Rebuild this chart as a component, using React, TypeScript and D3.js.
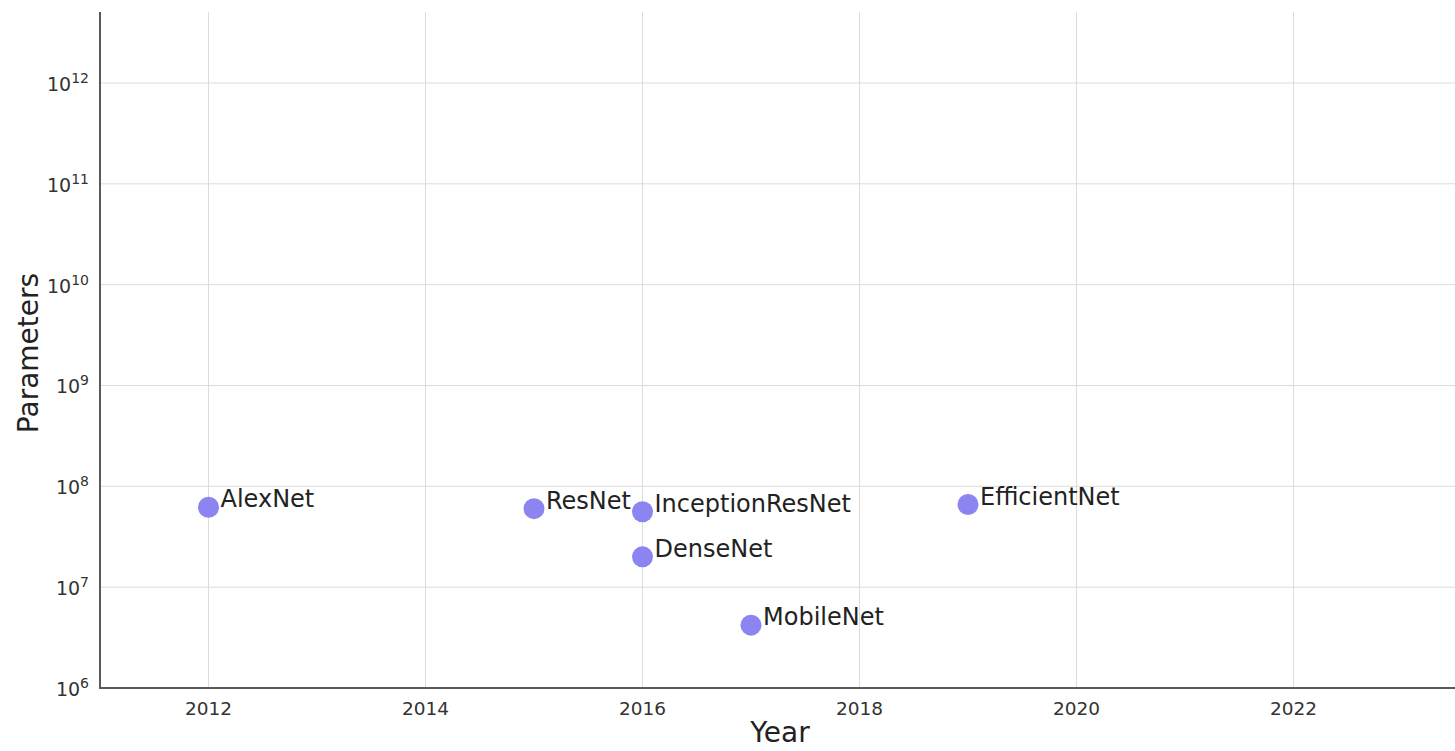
import React from "react";
import * as d3 from "d3";

// Model release year and parameter count
const models = ["AlexNet", "ResNet", "InceptionResNet", "DenseNet", "MobileNet", "EfficientNet"];
const years = [2012, 2015, 2016, 2016, 2017, 2019];
const params = [62e6, 60e6, 56e6, 20e6, 4.2e6, 66e6];

const xTicks = [2012, 2014, 2016, 2018, 2020, 2022];
const yExponents = [6, 7, 8, 9, 10, 11, 12];

const W = 1455;
const H = 751;
const FONT = "'DejaVu Sans', sans-serif";

export default function App() {
  const left = 100;
  const bottom = 688;
  const top = 12;

  const x = d3.scaleLinear().domain([2011, 2023.5]).range([left, left + 12.5 * 108.5]);
  const y = d3.scaleLog().domain([1e6, Math.pow(10, 12.704)]).range([bottom, top]);

  return (
    <svg
      width={W}
      height={H}
      style={{ position: "absolute", left: 0, top: 0, background: "#fff" }}
      fontFamily={FONT}
    >
      {/* grid */}
      <g stroke="#dcdcdc" strokeWidth={1}>
        {xTicks.map((t) => (
          <line key={"gx" + t} x1={x(t)} x2={x(t)} y1={top} y2={bottom} />
        ))}
        {yExponents.map((e) => (
          <line key={"gy" + e} x1={left} x2={W} y1={y(Math.pow(10, e))} y2={y(Math.pow(10, e))} />
        ))}
      </g>

      {/* spines */}
      <line x1={left} x2={left} y1={top} y2={bottom + 1} stroke="#5a5a5a" strokeWidth={2} />
      <line x1={left - 1} x2={W} y1={bottom} y2={bottom} stroke="#5a5a5a" strokeWidth={2} />

      {/* x tick labels */}
      {xTicks.map((t) => (
        <text key={"xt" + t} x={x(t)} y={715} textAnchor="middle" fontSize={18.5} fill="#333">
          {t}
        </text>
      ))}

      {/* y tick labels */}
      {yExponents.map((e) => (
        <text key={"yt" + e} x={89} y={y(Math.pow(10, e)) + 8} textAnchor="end" fontSize={19} fill="#333">
          <tspan>10</tspan>
          <tspan fontSize={14} dy={-8}>{e}</tspan>
        </text>
      ))}

      {/* axis titles */}
      <text x={780} y={742} textAnchor="middle" fontSize={28} fill="#222">
        Year
      </text>
      <text
        transform={`translate(38, ${(top + bottom) / 2 + 3}) rotate(-90)`}
        textAnchor="middle"
        fontSize={28}
        fill="#222"
      >
        Parameters
      </text>

      {/* points */}
      {models.map((m, i) => (
        <circle key={"p" + m} cx={x(years[i])} cy={y(params[i])} r={10.5} fill="#8c84f0" />
      ))}

      {/* point labels */}
      {models.map((m, i) => (
        <text key={"l" + m} x={x(years[i]) + 12} y={y(params[i])} fontSize={24} fill="#222">
          {m}
        </text>
      ))}
    </svg>
  );
}
